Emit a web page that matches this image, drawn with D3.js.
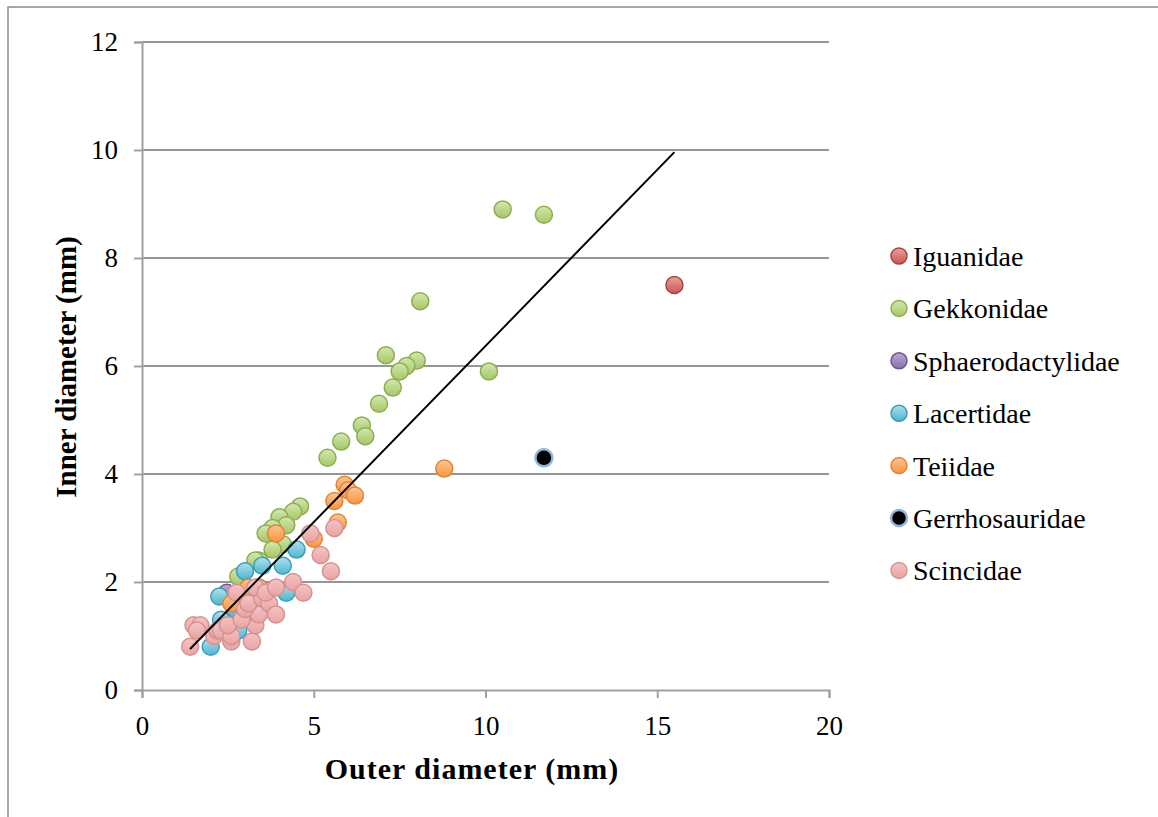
<!DOCTYPE html>
<html>
<head>
<meta charset="utf-8">
<script src="https://cdn.jsdelivr.net/npm/d3@7"></script>
<style>
  body { margin: 0; background: #fff; }
  svg { display: block; }
  text { font-family: "Liberation Serif", "Times New Roman", serif; fill: #000; }
</style>
</head>
<body>
<svg id="chart" width="1158" height="817"></svg>
<script>
// series names, in drawing order (later ones sit on top)
const families = ["Iguanidae", "Gekkonidae", "Sphaerodactylidae", "Lacertidae", "Teiidae", "Gerrhosauridae", "Scincidae"];

// [outer diameter, inner diameter] in mm
const iguanidae = [[15.5, 7.5]];
const gekkonidae = [
  [10.5, 8.9], [11.7, 8.8], [8.1, 7.2], [7.1, 6.2], [8.0, 6.1], [7.7, 6.0], [7.5, 5.9],
  [10.1, 5.9], [7.3, 5.6], [6.9, 5.3], [6.4, 4.9], [6.5, 4.7], [5.8, 4.6], [5.4, 4.3],
  [4.6, 3.4], [4.4, 3.3], [4.0, 3.2], [4.2, 3.05], [3.8, 3.0], [3.6, 2.9], [4.1, 2.7],
  [3.8, 2.6], [3.4, 2.4], [3.3, 2.4], [2.8, 2.1]
];
const sphaerodactylidae = [[2.47, 1.8]];
const lacertidae = [
  [2.0, 0.8], [2.3, 1.3], [2.25, 1.73], [2.8, 1.1], [3.0, 2.2], [3.5, 2.3],
  [4.1, 2.3], [4.5, 2.6], [4.2, 1.8], [2.7, 1.5]
];
const teiidae = [
  [2.6, 1.6], [3.0, 1.8], [3.1, 1.9], [3.4, 1.9], [3.9, 2.9], [5.0, 2.8], [5.7, 3.1],
  [5.6, 3.5], [5.9, 3.8], [6.0, 3.7], [6.2, 3.6], [8.8, 4.1]
];
const gerrhosauridae = [[11.7, 4.3]];
const scincidae = [
  [1.4, 0.8], [1.5, 1.2], [1.7, 1.2], [1.6, 1.1], [2.1, 1.0], [2.2, 1.1], [2.3, 1.1],
  [2.6, 0.9], [2.6, 1.0], [3.2, 0.9], [2.5, 1.2], [3.3, 1.2], [3.0, 1.4], [2.9, 1.3],
  [3.4, 1.4], [3.0, 1.5], [2.75, 1.8], [3.1, 1.6], [3.5, 1.7], [3.7, 1.6], [3.3, 1.9],
  [3.6, 1.8], [3.9, 1.9], [3.9, 1.4], [4.4, 2.0], [4.7, 1.8], [5.2, 2.5], [5.5, 2.2],
  [4.9, 2.9], [5.6, 3.0]
];
const seriesData = [iguanidae, gekkonidae, sphaerodactylidae, lacertidae, teiidae, gerrhosauridae, scincidae];

// linear trend line end points
const trendX = [1.4, 15.5];
const trendY = [0.76, 9.96];

const xTicks = [0, 5, 10, 15, 20];
const yTicks = [0, 2, 4, 6, 8, 10, 12];

// fill top, fill bottom, outline
const palette = [
  ["#eaa09d", "#c65854", "#a9423f"],
  ["#d3e8ad", "#a6c669", "#8dae50"],
  ["#bba9d3", "#8a6fae", "#6f5690"],
  ["#b0e0ed", "#4eb4cf", "#3e9db6"],
  ["#fcc593", "#f7963f", "#e0843a"],
  ["#000000", "#000000", "#95b3d7"],
  ["#f5c4c4", "#e9a3a3", "#d49293"]
];

const svg = d3.select("#chart");
const x = d3.scaleLinear().domain([0, 20]).range([142, 829]);
const y = d3.scaleLinear().domain([0, 12]).range([690, 42]);

const defs = svg.append("defs");
palette.forEach((c, i) => {
  const g = defs.append("linearGradient")
    .attr("id", "grad" + i)
    .attr("x1", 0).attr("y1", 0).attr("x2", 0).attr("y2", 1);
  g.append("stop").attr("offset", "0%").attr("stop-color", c[0]);
  g.append("stop").attr("offset", "100%").attr("stop-color", c[1]);
});

// outer frame
svg.append("rect")
  .attr("x", 8).attr("y", 7)
  .attr("width", 1160).attr("height", 830)
  .attr("fill", "none")
  .attr("stroke", "#8c8c8c")
  .attr("stroke-width", 1.5);

// horizontal grid lines
svg.append("g")
  .selectAll("line")
  .data(yTicks.filter((d) => d > 0))
  .join("line")
  .attr("x1", x(0)).attr("x2", x(20))
  .attr("y1", (d) => y(d)).attr("y2", (d) => y(d))
  .attr("stroke", "#969696")
  .attr("stroke-width", 2);

// axes
const yAxis = svg.append("g")
  .attr("transform", `translate(${x(0)},0)`)
  .call(d3.axisLeft(y).tickValues(yTicks).tickSize(8).tickPadding(16));
const xAxis = svg.append("g")
  .attr("transform", `translate(0,${y(0)})`)
  .call(d3.axisBottom(x).tickValues(xTicks).tickSize(8).tickPadding(18));

[yAxis, xAxis].forEach((a) => {
  a.select(".domain").attr("stroke", "#a0a0a0").attr("stroke-width", 2);
  a.selectAll(".tick line").attr("stroke", "#a0a0a0").attr("stroke-width", 2);
  a.selectAll(".tick text")
    .attr("fill", "#000")
    .style("font-family", '"Liberation Serif", serif')
    .style("font-size", "27px");
});

// axis titles
svg.append("text")
  .attr("x", 472).attr("y", 779)
  .attr("text-anchor", "middle")
  .style("font-size", "30px")
  .style("font-weight", "bold")
  .style("letter-spacing", "1px")
  .text("Outer diameter (mm)");
svg.append("text")
  .attr("transform", "translate(76,367) rotate(-90)")
  .attr("text-anchor", "middle")
  .style("font-size", "29px")
  .style("font-weight", "bold")
  .text("Inner diameter (mm)");

// points
seriesData.forEach((pts, i) => {
  svg.append("g")
    .attr("class", "series")
    .selectAll("circle")
    .data(pts)
    .join("circle")
    .attr("cx", (d) => x(d[0]))
    .attr("cy", (d) => y(d[1]))
    .attr("r", 8.5)
    .attr("fill", `url(#grad${i})`)
    .attr("stroke", palette[i][2])
    .attr("stroke-width", i === 5 ? 2.5 : 1.5);
});

// trend line
svg.append("line")
  .attr("x1", x(trendX[0])).attr("y1", y(trendY[0]))
  .attr("x2", x(trendX[1])).attr("y2", y(trendY[1]))
  .attr("stroke", "#000")
  .attr("stroke-width", 2);

// legend
const legend = svg.append("g")
  .selectAll("g")
  .data(families)
  .join("g")
  .attr("transform", (d, i) => `translate(899,${256 + i * 52.4})`);
legend.append("circle")
  .attr("r", 8)
  .attr("fill", (d, i) => `url(#grad${i})`)
  .attr("stroke", (d, i) => palette[i][2])
  .attr("stroke-width", (d, i) => (i === 5 ? 2.5 : 1.5));
legend.append("text")
  .attr("x", 14).attr("y", 10)
  .style("font-size", "28px")
  .text((d) => d);
</script>
</body>
</html>
